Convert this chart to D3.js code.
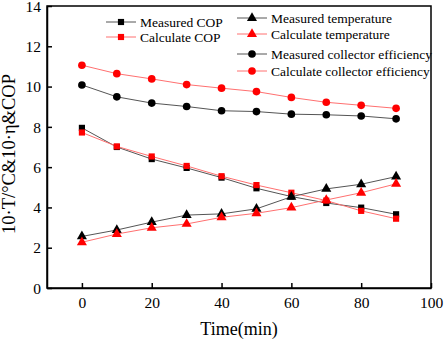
<!DOCTYPE html>
<html>
<head>
<meta charset="utf-8">
<script src="https://cdn.jsdelivr.net/npm/d3@7"></script>
<style>
  body { margin: 0; background: #fff; }
</style>
</head>
<body>
<div id="chart-container"></div>
<script>
const times = [0, 10, 20, 30, 40, 50, 60, 70, 80, 90];
const measuredCOP = [7.95, 7.0, 6.4, 5.96, 5.48, 4.95, 4.54, 4.22, 3.99, 3.66];
const calculateCOP = [7.72, 7.03, 6.53, 6.06, 5.55, 5.11, 4.73, 4.34, 3.83, 3.44];
const measuredTemp = [2.56, 2.88, 3.27, 3.62, 3.68, 3.93, 4.53, 4.92, 5.15, 5.53];
const calculateTemp = [2.27, 2.68, 2.99, 3.18, 3.51, 3.71, 3.99, 4.37, 4.73, 5.17];
const measuredEff = [10.08, 9.49, 9.18, 9.01, 8.8, 8.76, 8.63, 8.6, 8.54, 8.4];
const calculateEff = [11.06, 10.64, 10.38, 10.1, 9.92, 9.75, 9.46, 9.22, 9.07, 8.92];
const xTicks = [0, 20, 40, 60, 80, 100];
const yTicks = [0, 2, 4, 6, 8, 10, 12, 14];

const series = [
  { name: "Measured COP", values: measuredCOP, color: "#000", line: "#555", shape: "square" },
  { name: "Calculate COP", values: calculateCOP, color: "#ff0000", line: "#ff7070", shape: "square" },
  { name: "Measured temperature", values: measuredTemp, color: "#000", line: "#555", shape: "triangle" },
  { name: "Calculate temperature", values: calculateTemp, color: "#ff0000", line: "#ff7070", shape: "triangle" },
  { name: "Measured collector efficiency", values: measuredEff, color: "#000", line: "#555", shape: "circle" },
  { name: "Calculate collector efficiency", values: calculateEff, color: "#ff0000", line: "#ff7070", shape: "circle" }
];

const serif = "'Liberation Serif', 'DejaVu Serif', serif";

const svgWidth = 444;
const svgHeight = 341;
const margin = { top: 6, right: 13, bottom: 53, left: 47 };
const width = svgWidth - margin.left - margin.right;
const height = svgHeight - margin.top - margin.bottom;

const svg = d3.select("#chart-container")
    .append("svg")
    .attr("width", svgWidth)
    .attr("height", svgHeight)
    .style("font-family", serif);

const chart = svg.append("g")
    .attr("transform", `translate(${margin.left},${margin.top})`);

const scaleX = d3.scaleLinear().domain([-10, 100]).range([0, width]);
const scaleY = d3.scaleLinear().domain([0, 14]).range([height, 0]);

const symbolFor = {
  square: d3.symbol().type(d3.symbolSquare).size(38),
  triangle: d3.symbol().type(d3.symbolTriangle).size(44),
  circle: d3.symbol().type(d3.symbolCircle).size(46)
};

// frame
chart.append("rect")
    .attr("width", width)
    .attr("height", height)
    .attr("fill", "none")
    .attr("stroke", "#000")
    .attr("stroke-width", 1.5);

// ticks point inward, as in the original
const xAxis = chart.append("g")
    .attr("transform", `translate(0,${height})`)
    .call(d3.axisBottom(scaleX).tickValues(xTicks).tickSizeInner(-5).tickSizeOuter(0).tickPadding(9));

const yAxis = chart.append("g")
    .call(d3.axisLeft(scaleY).tickValues(yTicks).tickSizeInner(-5).tickSizeOuter(0).tickPadding(6));

[xAxis, yAxis].forEach(function(a) {
  a.attr("font-family", null).attr("font-size", null);
  a.select(".domain").attr("stroke-width", 1.5);
  a.selectAll(".tick line").attr("stroke-width", 1.5);
  a.selectAll(".tick text")
      .style("font-family", serif)
      .style("font-size", "15.5px")
      .attr("fill", "#000");
});
yAxis.selectAll(".tick text").attr("dy", "0.34em");

svg.append("text")
    .attr("x", margin.left + width / 2)
    .attr("y", 335)
    .attr("text-anchor", "middle")
    .style("font-family", serif)
    .style("font-size", "18px")
    .text("Time(min)");

svg.append("text")
    .attr("transform", "translate(15,154) rotate(-90)")
    .attr("text-anchor", "middle")
    .style("font-family", serif)
    .style("font-size", "18.5px")
    .text("10\u00b7T/\u00b0C&10\u00b7\u03b7&COP");

const lineGen = d3.line()
    .x((d, i) => scaleX(times[i]))
    .y(d => scaleY(d));

series.forEach(function(s) {
  chart.append("path")
      .datum(s.values)
      .attr("fill", "none")
      .attr("stroke", s.line)
      .attr("stroke-width", 1)
      .attr("d", lineGen);
  chart.selectAll(null)
      .data(s.values)
      .enter()
      .append("path")
      .attr("transform", (d, i) => `translate(${scaleX(times[i])},${scaleY(d)})`)
      .attr("d", symbolFor[s.shape]())
      .attr("fill", s.color);
});

// legend
const legendPos = [
  { x: 106, y: 22 }, { x: 106, y: 37 },
  { x: 237, y: 18 }, { x: 237, y: 34 },
  { x: 237, y: 54 }, { x: 237, y: 71 }
];

series.forEach(function(s, i) {
  const p = legendPos[i];
  const g = svg.append("g").attr("transform", `translate(${p.x},${p.y})`);
  g.append("line")
      .attr("x1", 0).attr("x2", 30)
      .attr("stroke", s.line)
      .attr("stroke-width", 1);
  g.append("path")
      .attr("transform", "translate(15,0)")
      .attr("d", symbolFor[s.shape]())
      .attr("fill", s.color);
  g.append("text")
      .attr("x", 34)
      .attr("y", 4.5)
      .style("font-family", serif)
      .style("font-size", "13.5px")
      .text(s.name);
});
</script>
</body>
</html>
